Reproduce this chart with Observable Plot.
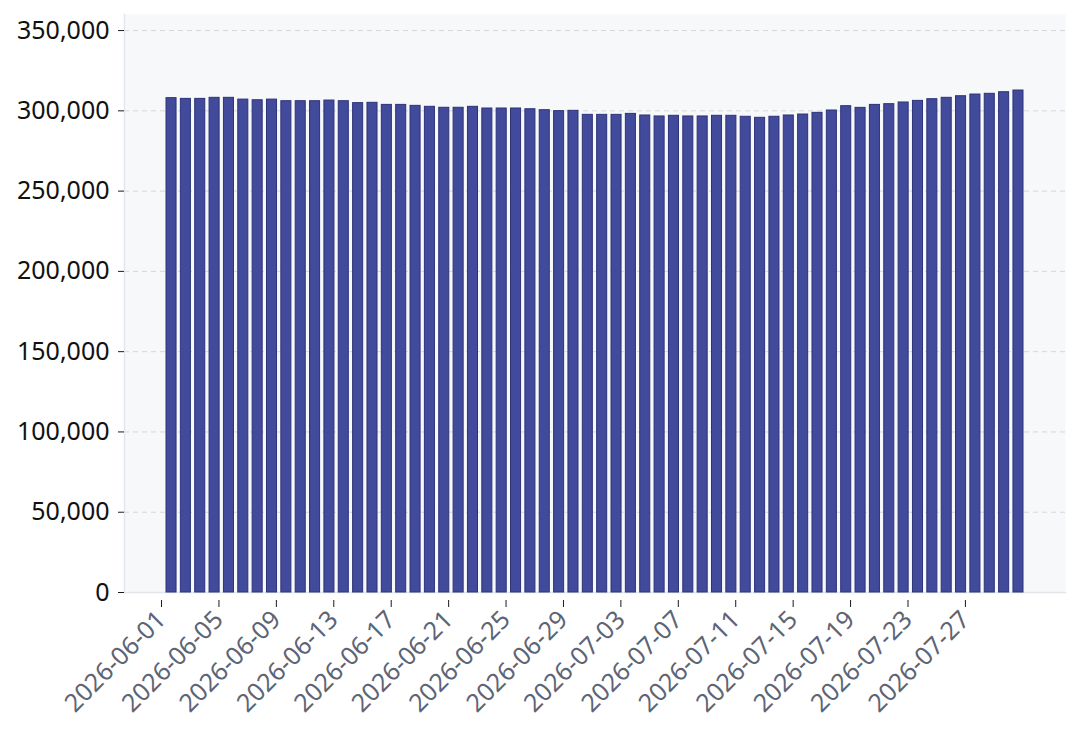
<!DOCTYPE html>
<html>
<head>
<meta charset="utf-8">
<script src="https://cdn.jsdelivr.net/npm/d3@7"></script>
<script src="https://cdn.jsdelivr.net/npm/@observablehq/plot@0.6"></script>
<style>
  html, body { margin: 0; padding: 0; background: #ffffff; }
  #chart { width: 1080px; height: 735px; }
</style>
</head>
<body>
<div id="chart"></div>
<script>
const dates = [
  "2026-06-01","2026-06-02","2026-06-03","2026-06-04","2026-06-05","2026-06-06","2026-06-07","2026-06-08","2026-06-09","2026-06-10",
  "2026-06-11","2026-06-12","2026-06-13","2026-06-14","2026-06-15","2026-06-16","2026-06-17","2026-06-18","2026-06-19","2026-06-20",
  "2026-06-21","2026-06-22","2026-06-23","2026-06-24","2026-06-25","2026-06-26","2026-06-27","2026-06-28","2026-06-29","2026-06-30",
  "2026-07-01","2026-07-02","2026-07-03","2026-07-04","2026-07-05","2026-07-06","2026-07-07","2026-07-08","2026-07-09","2026-07-10",
  "2026-07-11","2026-07-12","2026-07-13","2026-07-14","2026-07-15","2026-07-16","2026-07-17","2026-07-18","2026-07-19","2026-07-20",
  "2026-07-21","2026-07-22","2026-07-23","2026-07-24","2026-07-25","2026-07-26","2026-07-27","2026-07-28","2026-07-29","2026-07-30"
];
const values = [
  307900,307450,307450,308100,308100,307000,306600,307000,306000,306000,
  306000,306400,306000,304800,305000,303700,303700,303100,302500,301900,
  301900,302500,301450,301450,301450,301000,300400,299800,300000,297500,
  297500,297500,298100,297100,296500,296900,296500,296500,296900,296900,
  296300,295650,296300,297100,297700,298750,300200,302900,301850,303700,
  304150,305200,306200,307250,308100,309100,310150,310600,311600,312650
];
const xTickLabels = [
  "2026-06-01","2026-06-05","2026-06-09","2026-06-13","2026-06-17","2026-06-21","2026-06-25","2026-06-29",
  "2026-07-03","2026-07-07","2026-07-11","2026-07-15","2026-07-19","2026-07-23","2026-07-27"
];
const yTicks = [0, 50000, 100000, 150000, 200000, 250000, 300000, 350000];

const data = dates.map((d, i) => ({date: d, value: values[i]}));

const chart = Plot.plot({
  width: 1080,
  height: 735,
  marginLeft: 124,
  marginRight: 15,
  marginTop: 14,
  marginBottom: 143,
  style: {fontFamily: "'Noto Sans', sans-serif", background: "#ffffff", overflow: "visible"},
  x: {type: "band", domain: dates, paddingInner: 0.3, paddingOuter: 0, round: false, insetLeft: 42, insetRight: 42, label: null},
  y: {domain: [0, 360000], label: null},
  marks: [
    Plot.frame({fill: "#f7f8fa", stroke: null}),
    Plot.gridY(yTicks, {stroke: "#d3d7de", strokeOpacity: 1, strokeDasharray: "5,4", strokeWidth: 1}),
    Plot.frame({anchor: "left", stroke: "#e2e5ea", strokeWidth: 1.5}),
    Plot.frame({anchor: "bottom", stroke: "#e2e5ea", strokeWidth: 1.5}),
    Plot.barY(data, {x: "date", y: "value", fill: "#424a9c", stroke: "#2c3378", strokeWidth: 1}),
    Plot.axisY(yTicks, {
      tickFormat: d3.format(","),
      tickSize: 6,
      tickPadding: 9,
      fontSize: 25,
      fill: "#111111",
      stroke: "#1a1a1a",
      label: null
    }),
    Plot.axisX(xTickLabels, {
      tickRotate: -45,
      tickSize: 7,
      tickPadding: 8,
      dx: -10,
      dy: 8,
      fontSize: 25,
      fill: "#5d6475",
      stroke: "#1a1a1a",
      label: null
    })
  ]
});
document.getElementById("chart").appendChild(chart);
</script>
</body>
</html>
